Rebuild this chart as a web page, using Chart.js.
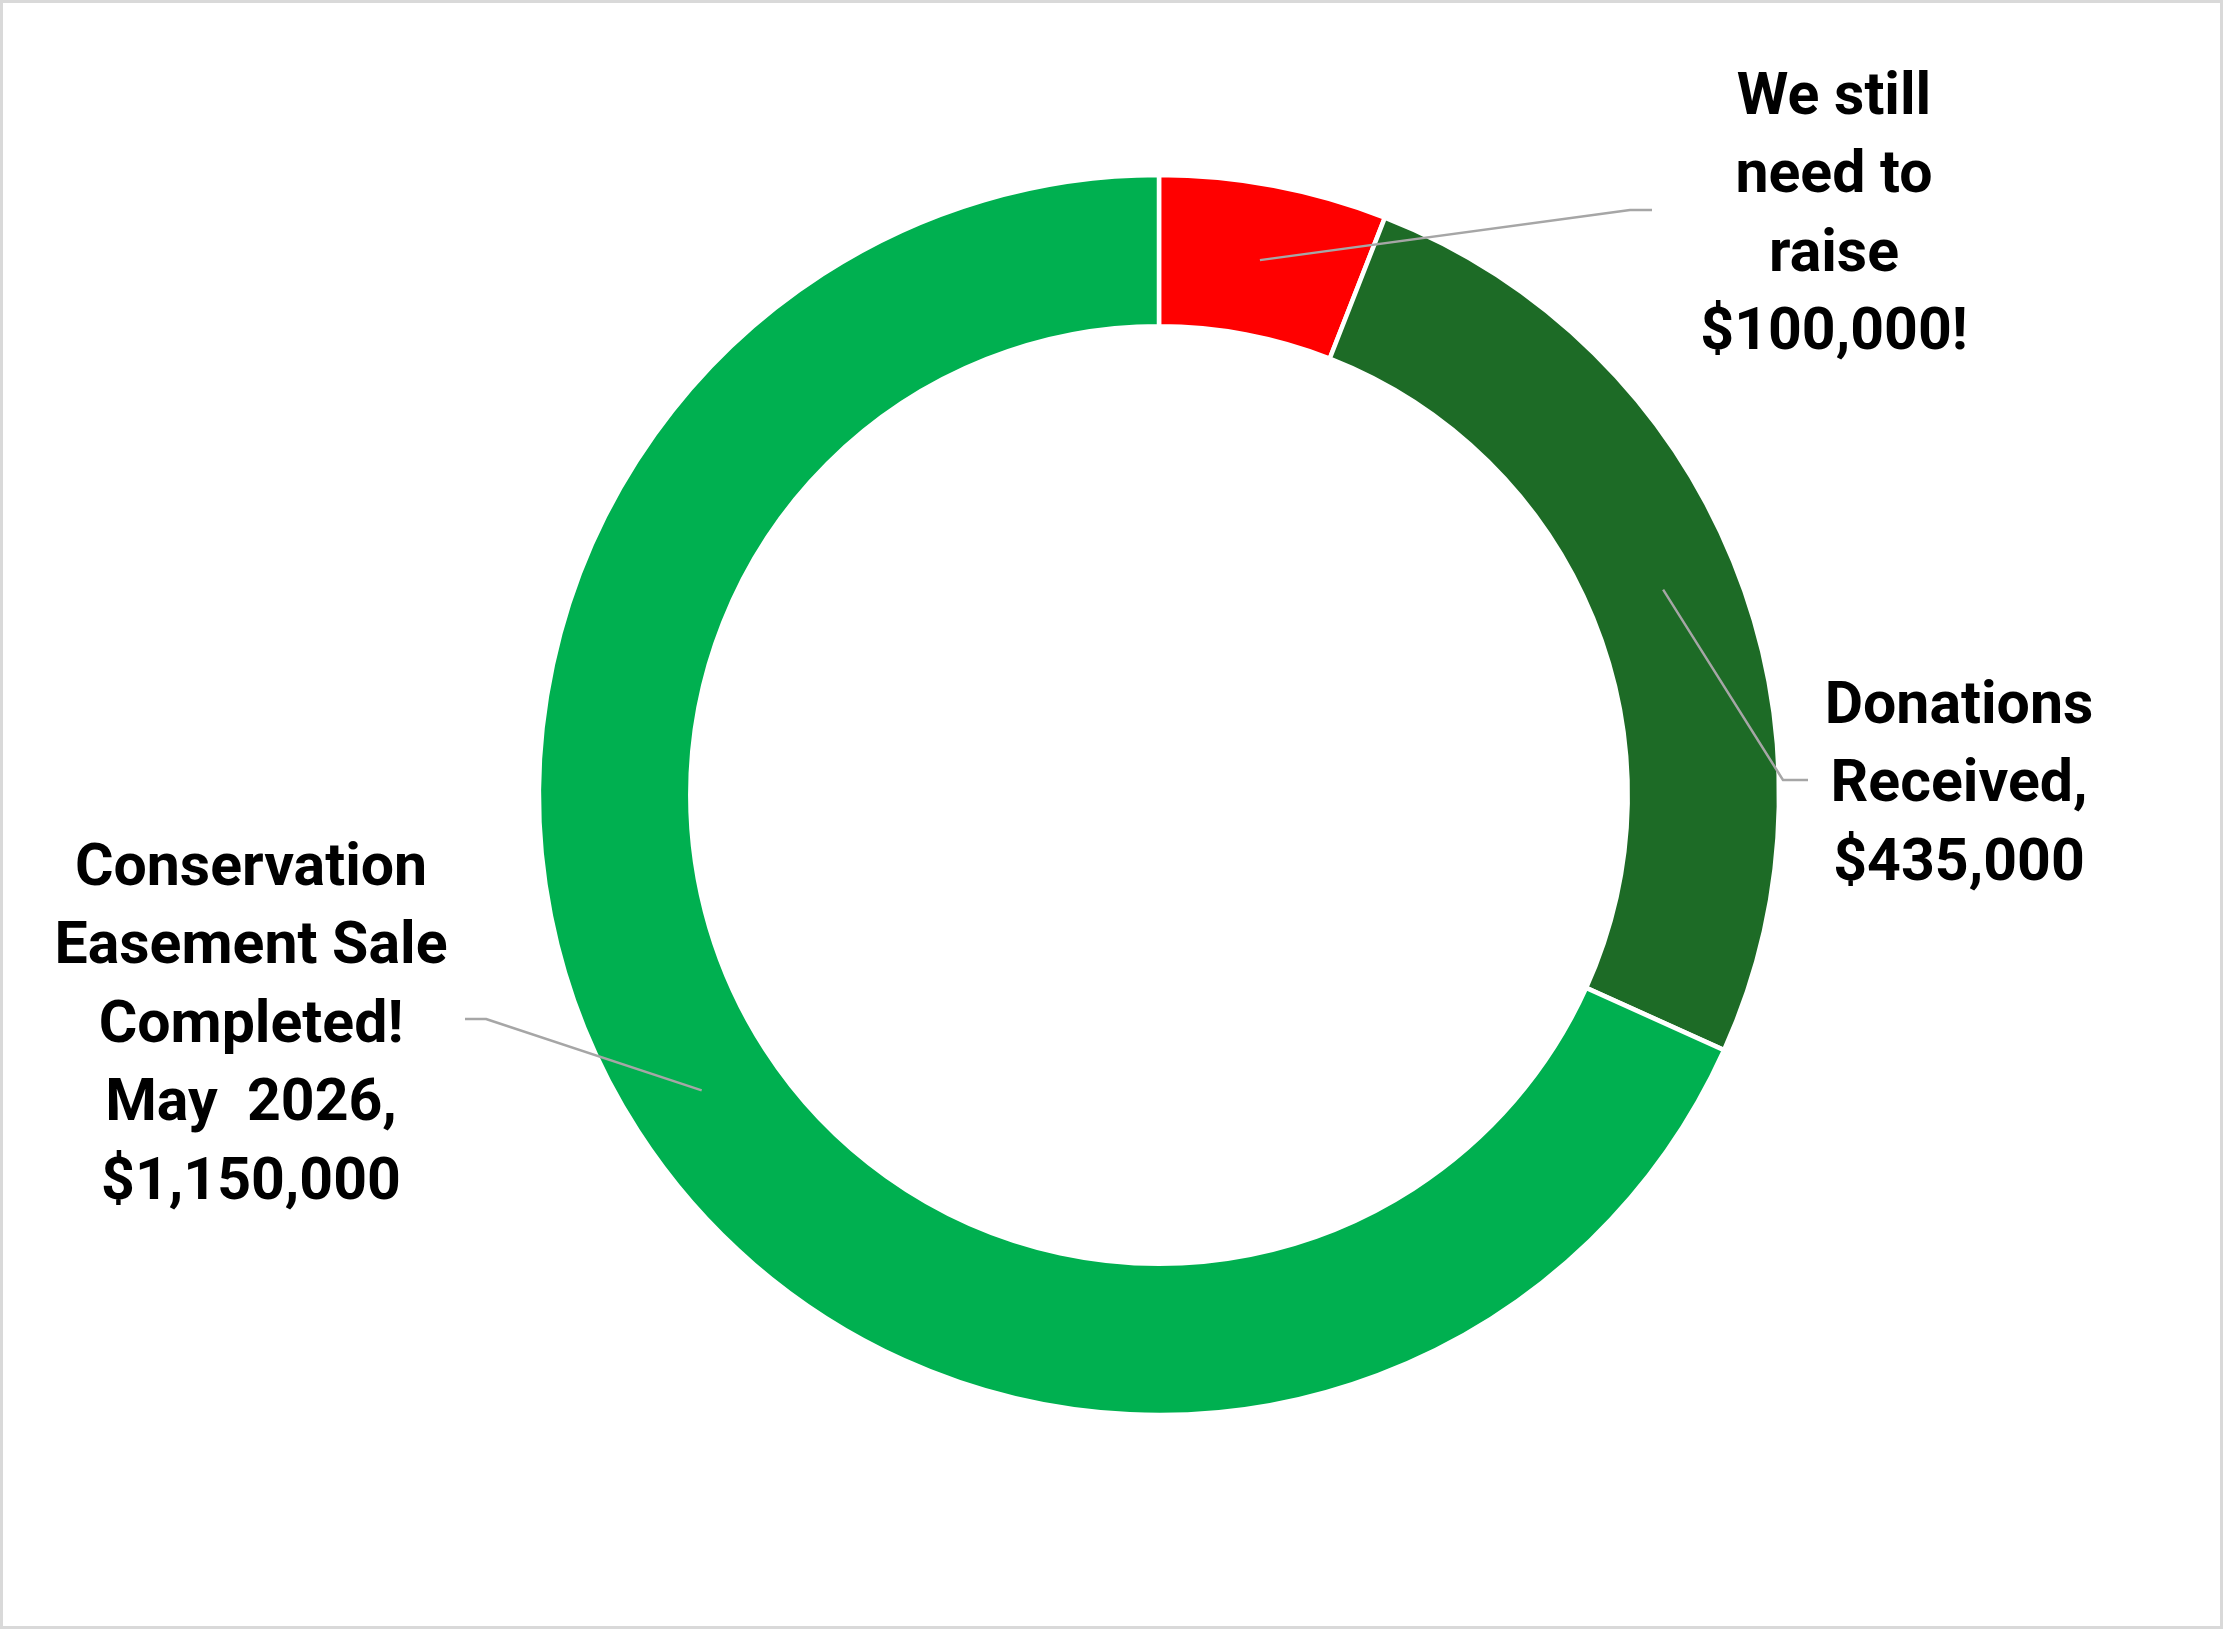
<!DOCTYPE html>
<html>
<head>
<meta charset="utf-8">
<script src="https://cdn.jsdelivr.net/npm/chart.js@4"></script>
<style>
  html, body { margin: 0; padding: 0; background: #ffffff; }
  #wrap { position: relative; width: 2223px; height: 1629px; }
  #frame { position: absolute; left: 0; top: 0; width: 2223px; height: 1629px; box-sizing: border-box; border: 3px solid #d9d9d9; pointer-events: none; }
  canvas { display: block; }
</style>
</head>
<body>
<div id="wrap">
  <canvas id="c" width="2223" height="1629"></canvas>
  <div id="frame"></div>
</div>
<script>
// ---- data ----
const categories = ["We still need to raise", "Donations Received", "Conservation Easement Sale Completed! May 2026"];
const amounts = [100000, 435000, 1150000];
const labelLines = [
  ["We still", "need to", "raise"],
  ["Donations", "Received,"],
  ["Conservation", "Easement Sale", "Completed!", "May  2026,"]
];
const valueSuffix = ["!", "", ""];
const sliceColors = ["#FF0000", "#1D6B26", "#00B050"];

// ---- layout (label placement, not data) ----
const labelLayout = [
  { x: 1834, y: 99,  elbow: [1630, 210], end: [1652, 210] },
  { x: 1959, y: 708, elbow: [1783, 780], end: [1808, 780] },
  { x: 251,  y: 870, elbow: [486, 1019], end: [465, 1019] }
];
const LINE_H = 78.5;
const FONT = "bold 59px Roboto, 'Liberation Sans', sans-serif";

function fmtMoney(v) {
  return "$" + v.toLocaleString("en-US");
}

const leaderLabels = {
  id: "leaderLabels",
  afterDatasetsDraw(chart) {
    const ctx = chart.ctx;
    const meta = chart.getDatasetMeta(0);
    meta.data.forEach((arc, i) => {
      const p = arc.getCenterPoint();
      const L = labelLayout[i];
      ctx.save();
      ctx.strokeStyle = "#A6A6A6";
      ctx.lineWidth = 2.4;
      ctx.lineJoin = "round";
      ctx.beginPath();
      ctx.moveTo(p.x, p.y);
      ctx.lineTo(L.elbow[0], L.elbow[1]);
      ctx.lineTo(L.end[0], L.end[1]);
      ctx.stroke();
      ctx.restore();

      const lines = labelLines[i].concat([fmtMoney(amounts[i]) + valueSuffix[i]]);
      ctx.save();
      ctx.fillStyle = "#000000";
      ctx.font = FONT;
      ctx.textAlign = "center";
      ctx.textBaseline = "middle";
      lines.forEach((t, k) => ctx.fillText(t, L.x, L.y + k * LINE_H));
      ctx.restore();
    });
  }
};

new Chart(document.getElementById("c"), {
  type: "doughnut",
  data: {
    labels: categories,
    datasets: [{
      data: amounts,
      backgroundColor: sliceColors,
      borderColor: "#ffffff",
      borderWidth: 4.5,
      hoverOffset: 0
    }]
  },
  options: {
    responsive: false,
    devicePixelRatio: 1,
    animation: false,
    radius: 620,
    cutout: 467,
    layout: { padding: { left: 95, right: 0, top: 175, bottom: 214 } },
    plugins: {
      legend: { display: false },
      tooltip: { enabled: false }
    }
  },
  plugins: [leaderLabels]
});
</script>
</body>
</html>
